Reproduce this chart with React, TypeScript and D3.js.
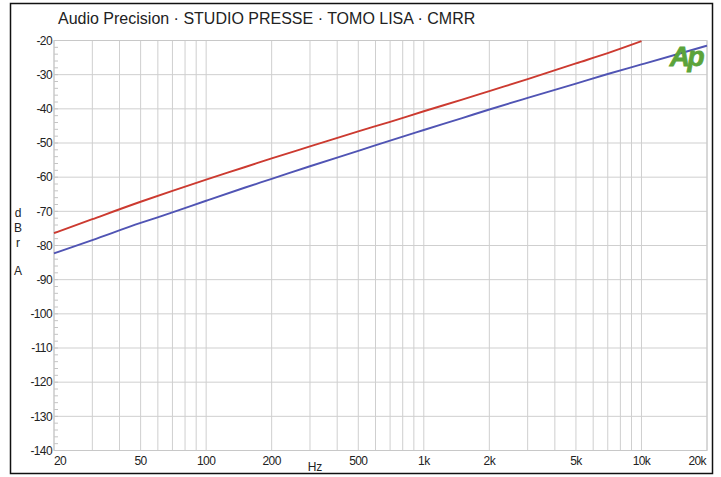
import React from 'react';
import * as d3 from 'd3';

const title = 'Audio Precision · STUDIO PRESSE · TOMO LISA · CMRR';

// frequency points (Hz) and the two CMRR traces (dBrA)
const freqs = [20, 30, 50, 70, 100, 150, 200, 300, 500, 700, 1000, 1500, 2000, 3000, 5000, 7000, 10000, 15000, 20000];
const redDb = [-76.4, -72.3, -67.2, -64.0, -60.7, -57.1, -54.5, -51.0, -46.6, -43.8, -40.7, -37.3, -34.8, -31.3, -26.7, -23.7, -20.2, null, null];
const blueDb = [-82.3, -78.4, -73.4, -70.3, -66.9, -63.1, -60.5, -56.8, -52.3, -49.3, -46.2, -42.7, -40.2, -36.8, -32.6, -29.8, -27.0, -23.8, -21.5];

const xLabelVals = [20, 50, 100, 200, 500, 1000, 2000, 5000, 10000, 20000];
const xLabelText = ['20', '50', '100', '200', '500', '1k', '2k', '5k', '10k', '20k'];
const yLabelVals = d3.range(-20, -141, -10);
const yAxisLetters = ['d', 'B', 'r', 'A'];

export default function App() {
  const W = 721;
  const H = 477;
  const left = 54, right = 707, top = 40.5, bottom = 450.5;

  const x = d3.scaleLog().domain([20, 20000]).range([left, right]);
  const y = d3.scaleLinear().domain([-140, -20]).range([bottom, top]);

  const gridX = x.ticks();
  const minorY = d3.range(-20, -141, -2);

  const mkLine = (vals: (number | null)[]) =>
    d3.line<number>()
      .defined((_, i) => vals[i] != null)
      .x(f => x(f))
      .y((_, i) => y(vals[i] as number))
      .curve(d3.curveMonotoneX)(freqs) || '';

  const font = '"Liberation Sans", Arial, sans-serif';

  return (
    <svg width={W} height={H} style={{ position: 'absolute', left: 0, top: 0, background: '#fff' }}>
      <rect x={10.5} y={3.5} width={702} height={470} fill="#fff" stroke="#111" strokeWidth={1.5} />

      <text x={58} y={24} fontFamily={font} fontSize={16} fill="#222">{title}</text>

      {/* grid */}
      {gridX.map(f => (
        <line key={'gx' + f} x1={x(f)} x2={x(f)} y1={top} y2={bottom} stroke="#cfcfcf" strokeWidth={1} />
      ))}
      {yLabelVals.map(v => (
        <line key={'gy' + v} x1={left} x2={right} y1={y(v)} y2={y(v)} stroke="#cfcfcf" strokeWidth={1} />
      ))}
      {minorY.map(v => (
        <line key={'my' + v} x1={left} x2={left + 4} y1={y(v)} y2={y(v)} stroke="#c4c4c4" strokeWidth={1} />
      ))}
      <rect x={left} y={top} width={right - left} height={bottom - top} fill="none" stroke="#c8c8c8" strokeWidth={1} />

      {/* traces */}
      <path d={mkLine(blueDb)} fill="none" stroke="#5054b4" strokeWidth={1.9} />
      <path d={mkLine(redDb)} fill="none" stroke="#cc3a30" strokeWidth={1.9} />

      {/* y labels */}
      {yLabelVals.map(v => (
        <text key={'yl' + v} x={52} y={y(v)} dy="0.35em" textAnchor="end" fontFamily={font}
          fontSize={12} letterSpacing={-0.6} fill="#222">{v}</text>
      ))}
      {yAxisLetters.map((c, i) => (
        <text key={'al' + i} x={18} y={[217, 232, 247, 275][i]} textAnchor="middle" fontFamily={font}
          fontSize={12} fill="#222">{c}</text>
      ))}

      {/* x labels */}
      {xLabelVals.map((f, i) => {
        const anchor = i === 0 ? 'start' : i === xLabelVals.length - 1 ? 'end' : 'middle';
        return (
          <text key={'xl' + f} x={x(f) + (i === xLabelVals.length - 1 ? -1 : 0)} y={465}
            textAnchor={anchor} fontFamily={font} fontSize={12} letterSpacing={-0.6} fill="#222">{xLabelText[i]}</text>
        );
      })}
      <text x={315} y={471} textAnchor="middle" fontFamily={font} fontSize={12} fill="#222">Hz</text>

      {/* Ap logo */}
      <text x={686} y={66} textAnchor="middle" fontFamily={font} fontSize={28} fontWeight="bold"
        fontStyle="italic" letterSpacing={-2.5} fill="#5ba33a" stroke="#5ba33a" strokeWidth={0.8}>Ap</text>
    </svg>
  );
}
